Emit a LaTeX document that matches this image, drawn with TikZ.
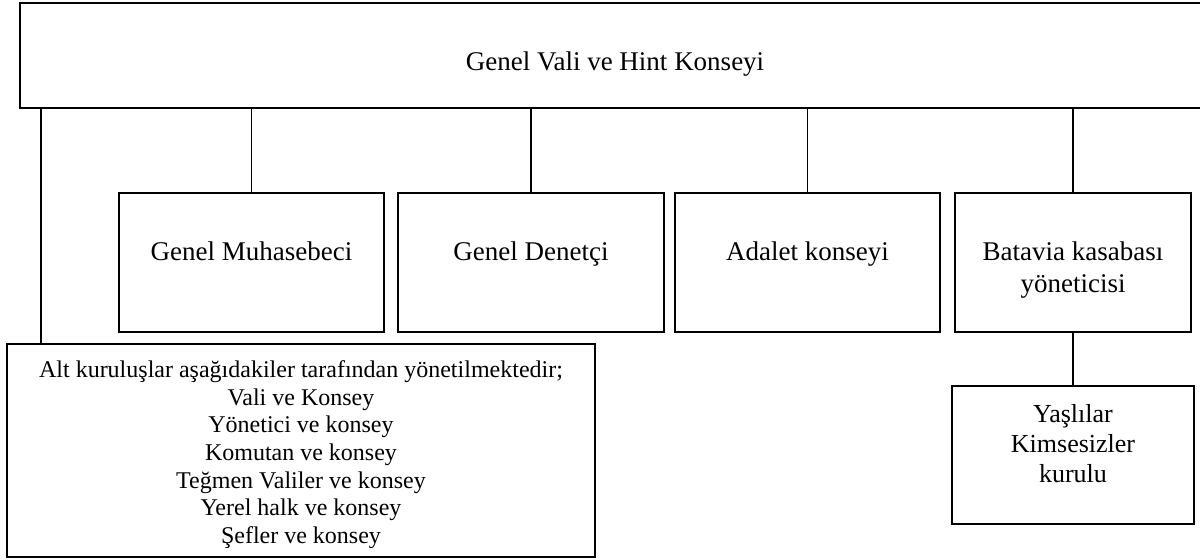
\documentclass[tikz,border=0pt]{standalone}
\usepackage{fontspec}
\setmainfont{Liberation Serif}
\usetikzlibrary{positioning}

\begin{document}
\begin{tikzpicture}[
    x=0.5pt, y=-0.5pt,
    box/.style={rectangle, draw, line width=0.6pt, inner sep=0pt, minimum height=69.5pt},
    lbl/.style={inner sep=0pt, anchor=north, align=center, font=\fontsize{13.5}{16}\selectfont},
    conn/.style={line width=0.6pt}
]
\useasboundingbox (0,0) rectangle (1200,559);
\clip (0,0) rectangle (1200,559);

% Top box
\node[box, minimum width=595pt, minimum height=52.5pt] (gov) at (615,55.5) {};
\node[lbl, below=24.3pt of gov.north] (govtxt) {Genel Vali ve Hint Konseyi};

% Row of offices
\node[box, minimum width=132.5pt] (acc) at (251.5,262.5) {};
\node[box, minimum width=133pt] (aud) at (531,262.5) {};
\node[box, minimum width=132.5pt] (just) at (807.5,262.5) {};
\node[box, minimum width=118pt] (bat) at (1073,262.5) {};

\node[lbl, below=24.3pt of acc.north] (acctxt) {Genel Muhasebeci};
\node[lbl, below=24.3pt of aud.north] (audtxt) {Genel Denetçi};
\node[lbl, below=24.3pt of just.north] (justtxt) {Adalet konseyi};
\node[lbl, below=24.3pt of bat.north] (battxt) {Batavia kasabası\\yöneticisi};

% Lower boxes
\node[box, minimum width=121pt, minimum height=69pt] (orph) at (1073,455) {};
\node[lbl, font=\fontsize{13}{15}\selectfont, below=9.1pt of orph.north] (orphtxt) {Yaşlılar\\Kimsesizler\\kurulu};

\node[box, minimum width=294pt, minimum height=106.5pt] (sub) at (301,450.5) {};
\node[lbl, font=\fontsize{12}{13.85}\selectfont, below=8.3pt of sub.north] (subtxt)
    {Alt kuruluşlar aşağıdakiler tarafından yönetilmektedir;\\Vali ve Konsey\\Yönetici ve konsey\\Komutan ve konsey\\Teğmen Valiler ve konsey\\Yerel halk ve konsey\\Şefler ve konsey};

% Connectors
\coordinate (leftx) at (41,0);
\draw[conn] (gov.south -| leftx) -- (sub.north -| leftx);
\draw[conn] (gov.south -| acc.north) -- (acc.north);
\draw[conn] (gov.south -| aud.north) -- (aud.north);
\draw[conn] (gov.south -| just.north) -- (just.north);
\draw[conn] (gov.south -| bat.north) -- (bat.north);
\draw[conn] (bat.south) -- (orph.north);

\end{tikzpicture}
\end{document}
